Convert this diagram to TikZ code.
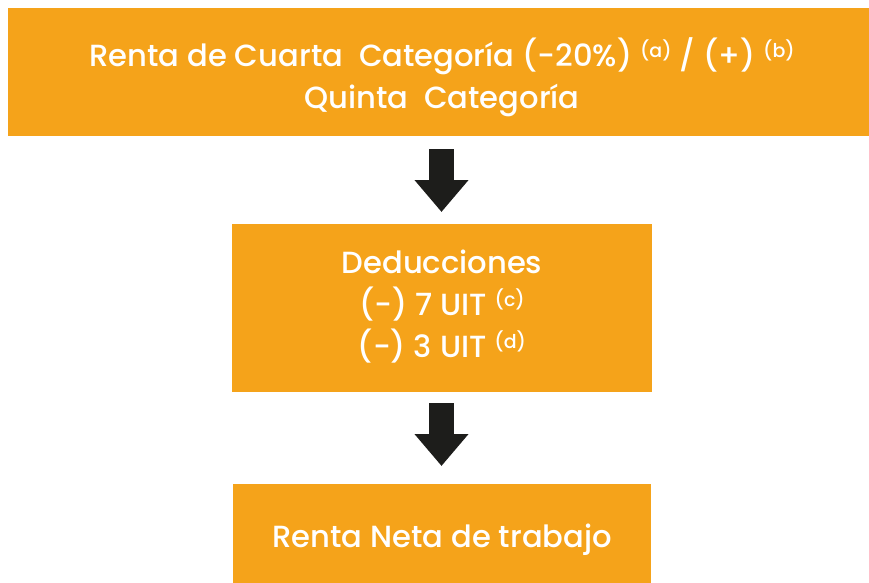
\documentclass[tikz,border=0pt]{standalone}
\usepackage{fontspec}
\setmainfont{Poppins}[UprightFont={* Medium}]
\usetikzlibrary{arrows.meta}
\definecolor{boxorange}{HTML}{F5A31A}
\definecolor{arrowdark}{HTML}{1D1D1B}
\tikzset{
  flowbox/.style={fill=boxorange, draw=none, inner sep=0pt, anchor=north west},
  boxtext/.style={text=white, font=\fontsize{30.6}{42}\selectfont, align=center, inner sep=0pt},
  blockarrow/.style={draw=arrowdark, line width=25pt, -{Triangle[width=52pt,length=32pt]}, arrowdark},
}
\newcommand{\supnote}[1]{\raisebox{9pt}{\fontsize{19}{19}\selectfont(#1)}}
\begin{document}
\begin{tikzpicture}[x=1pt,y=-1pt]
\useasboundingbox (0,0) rectangle (869,582);
\node[flowbox, minimum width=861pt, minimum height=128pt] (top) at (8,8) {};
\node[flowbox, minimum width=420pt, minimum height=168pt] (mid) at (232,224) {};
\node[flowbox, minimum width=418pt, minimum height=110pt] (bot) at (233,484) {};
\node[boxtext] (toptext) at (442,77) {Renta de Cuarta\ \ Categoría (-20\%) \supnote{a} / (+) \supnote{b}\\Quinta\ \ Categoría};
\node[boxtext] (midtext) at (442,307) {Deducciones\\(-) 7 UIT \supnote{c}\\(-) 3 UIT \supnote{d}};
\node[boxtext] (bottext) at (442,540) {Renta Neta de trabajo};
\coordinate (a1s) at (441.5,149);
\coordinate (a1e) at (441.5,212);
\coordinate (a2s) at (441.5,403);
\coordinate (a2e) at (441.5,466);
\draw[blockarrow] (a1s) -- (a1e);
\draw[blockarrow] (a2s) -- (a2e);
\end{tikzpicture}
\end{document}
